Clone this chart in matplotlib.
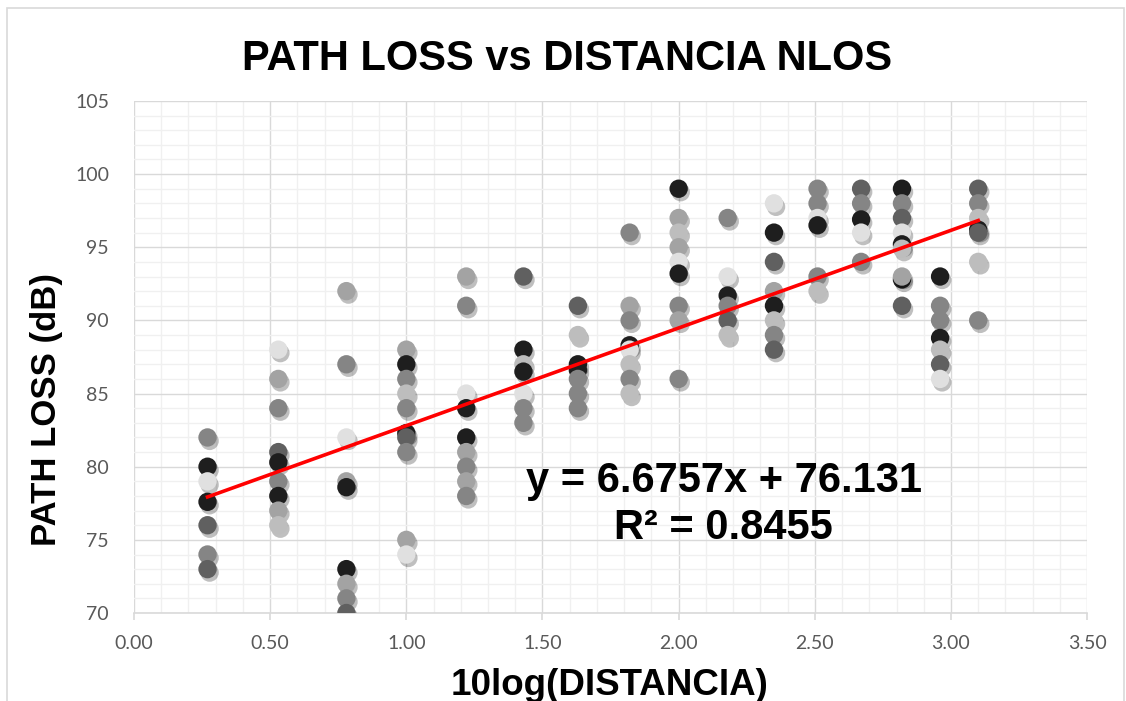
import matplotlib.pyplot as plt
import matplotlib.patheffects as pe
from matplotlib.patches import Rectangle
from matplotlib.ticker import MultipleLocator, FormatStrFormatter

# --- data ---
x_pos = [0.27, 0.53, 0.78, 1.00, 1.22, 1.43, 1.63, 1.82,
         2.00, 2.18, 2.35, 2.51, 2.67, 2.82, 2.96, 3.10]

# path loss (dB) per column, listed top to bottom
pl_cols = [
    [82, 80, 79, 77.6, 76, 74, 73],
    [88, 86, 84, 81, 80.3, 79, 78, 77, 76],
    [92, 87, 82, 79, 78.6, 73, 72, 71, 70],
    [88, 87, 86, 85, 84, 82.3, 82, 81, 75, 74],
    [93, 91, 85, 84, 82, 81, 80, 79, 78],
    [93, 88, 87, 86.5, 85, 84, 83],
    [91, 89, 87, 86.6, 86, 85, 84],
    [96, 91, 90, 88.3, 88, 87, 86, 85],
    [99, 97, 96, 95, 94, 93.2, 91, 90, 86],
    [97, 93, 91.7, 91, 90, 89],
    [98, 96, 94, 92, 91, 90, 89, 88],
    [99, 98, 97, 96.5, 93, 92],
    [99, 98, 96.9, 96, 94],
    [99, 98, 97, 96, 95.2, 94.9, 92.8, 93, 91],
    [93, 91, 90, 88.8, 88, 87, 86],
    [99, 98, 97, 96.2, 96, 94, 90],
]
# grey shade of each point (K black .. W very light)
shade_cols = [
    "MKWKDMD",
    "WGMDKMKGL",
    "GMWGKKGMD",
    "GKMLMKDMGW",
    "GMWKKGMGM",
    "DKLKWMM",
    "DLKKMMM",
    "MGMKWLML",
    "KGLGWKMGM",
    "MWKMDL",
    "WKDGKLMD",
    "MMWKML",
    "DMKWM",
    "KMDWKLKGD",
    "KMMKLDW",
    "DMLKDLM",
]

slope = 6.6757
intercept = 76.131
r2 = 0.8455

palette = {"K": "#1e1e1e", "D": "#606060", "M": "#858585",
           "G": "#a3a3a3", "L": "#bdbdbd", "W": "#e0e0e0"}

fig = plt.figure(figsize=(11.26, 7.01), dpi=100)
ax = fig.add_axes([0.119, 0.1255, 0.8465, 0.7305])

# border around the chart area
fig.patches.append(Rectangle((0.006, -0.02), 0.992, 1.008, transform=fig.transFigure,
                             fill=False, edgecolor="#d9d9d9", linewidth=1.2))

shadow = [pe.SimplePatchShadow(offset=(1.5, -2.5), shadow_rgbFace="#000000", alpha=0.25),
          pe.Normal()]

z = 3
for xv, ys, shades in zip(x_pos, pl_cols, shade_cols):
    for yv, sh in zip(ys, shades):
        ax.scatter([xv], [yv], s=175, color=palette[sh], edgecolors="none",
                   zorder=z, path_effects=shadow)
        z += 0.001

# linear trend line
xt = [min(x_pos), max(x_pos)]
yt = [slope * v + intercept for v in xt]
ax.plot(xt, yt, color="#ff0000", linewidth=2.6, zorder=10)

bold = dict(fontweight="bold", family="Liberation Sans")
ax.text(0.6186, 0.236, f"y = {slope}x + {intercept}", transform=ax.transAxes,
        ha="center", va="baseline", fontsize=30, zorder=11, **bold)
ax.text(0.6186, 0.1445, f"R² = {r2}", transform=ax.transAxes,
        ha="center", va="baseline", fontsize=30, zorder=11, **bold)

ax.set_xlim(0, 3.5)
ax.set_ylim(70, 105)
ax.xaxis.set_major_locator(MultipleLocator(0.5))
ax.xaxis.set_minor_locator(MultipleLocator(0.1))
ax.yaxis.set_major_locator(MultipleLocator(5))
ax.yaxis.set_minor_locator(MultipleLocator(1))
ax.xaxis.set_major_formatter(FormatStrFormatter("%.2f"))

ax.grid(True, which="major", color="#d9d9d9", linewidth=1.0, zorder=0)
ax.grid(True, which="minor", color="#f0f0f0", linewidth=1.0, zorder=0)
ax.set_axisbelow(True)

for s in ["top", "right", "left"]:
    ax.spines[s].set_visible(False)
ax.spines["bottom"].set_color("#d9d9d9")
ax.spines["bottom"].set_linewidth(1.2)
ax.tick_params(axis="x", which="major", length=5, color="#d9d9d9", width=1.2,
               labelsize=14, labelcolor="#595959", pad=11)
ax.tick_params(axis="x", which="minor", length=0)
ax.tick_params(axis="y", which="both", length=0, labelsize=14,
               labelcolor="#595959", pad=18)
for lab in ax.get_xticklabels() + ax.get_yticklabels():
    lab.set_family("Lato")

# titles
fig.text(0.5036, 1 - 70 / 701, "PATH LOSS vs DISTANCIA NLOS", ha="center",
         va="baseline", fontsize=30, **bold)
fig.text(0.5417, 1 - 695 / 701, "10log(DISTANCIA)", ha="center",
         va="baseline", fontsize=26.5, **bold)
fig.text(47 / 1126, 1 - 410 / 701, "PATH LOSS (dB)", ha="center", va="center",
         rotation=90, fontsize=25, **bold)

plt.savefig("out.png", dpi=100)
